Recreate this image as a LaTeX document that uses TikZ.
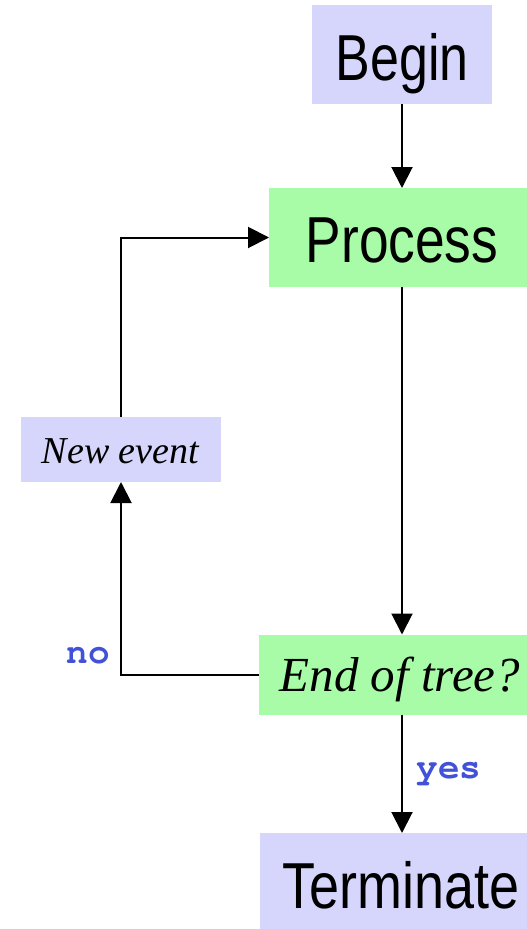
\documentclass[tikz,border=0pt]{standalone}
\usepackage{fontspec}
\setmainfont{Liberation Serif}
\newfontfamily\boxsans{Liberation Sans}
\newfontfamily\labmono{TeX Gyre Cursor}
\usetikzlibrary{arrows.meta}

\definecolor{lavbox}{HTML}{D6D6FC}
\definecolor{greenbox}{HTML}{A8FCA8}
\definecolor{lablue}{HTML}{4252D8}

\tikzset{
  box/.style={draw=none, inner sep=0pt, outer sep=0pt},
  lavfill/.style={box, fill=lavbox},
  greenfill/.style={box, fill=greenbox},
  bigtext/.style={anchor=base, inner sep=0pt, font=\boxsans\fontsize{65}{70}\selectfont},
  ittext/.style={anchor=base, inner sep=0pt, font=\itshape},
  monolabel/.style={anchor=base, inner sep=0pt, text=lablue,
    font=\labmono\bfseries\fontsize{36}{40}\selectfont},
  arr/.style={line width=2pt, -{Triangle[length=21pt,width=21pt]}},
  link/.style={line width=2pt}
}

\begin{document}
\begin{tikzpicture}[x=1pt, y=-1pt]
  \useasboundingbox (0,0) rectangle (527,929);

  % boxes
  \node[lavfill, minimum width=180pt, minimum height=99pt] (begin) at (402,54.5) {};
  \node[greenfill, minimum width=258pt, minimum height=99pt] (process) at (398,237.5) {};
  \node[lavfill, minimum width=200pt, minimum height=65pt] (newev) at (121,449.5) {};
  \node[greenfill, minimum width=268pt, minimum height=80pt] (endq) at (393,674.5) {};
  \node[lavfill, minimum width=267pt, minimum height=96pt] (term) at (393.5,881) {};

  % box texts
  \node[bigtext] (tbegin) at (402,80) {\scalebox{0.8}[1]{Begin}};
  \node[bigtext] (tprocess) at (402,262) {\scalebox{0.82}[1]{Process}};
  \node[ittext, font=\itshape\fontsize{38}{40}\selectfont] (tnewev) at (120.5,463) {New event};
  \node[ittext, font=\itshape\fontsize{49}{52}\selectfont] (tendq) at (400,691) {End of tree?};
  \node[bigtext] (tterm) at (401,908) {\scalebox{0.83}[1]{Terminate}};

  % branch labels
  \node[monolabel] (lno) at (88.5,663) {no};
  \node[monolabel] (lyes) at (449,778) {yes};

  % main flow
  \draw[arr] (begin.south) -- (begin.south |- process.north);
  \draw[arr] (begin.south |- process.south) -- (begin.south |- endq.north);
  \draw[arr] (begin.south |- endq.south) -- (begin.south |- term.north);

  % loop back through a new event
  \draw[arr] (endq.west) -- (newev.south |- endq.west) -- (newev.south);
  \draw[arr] (newev.north) |- (process.west);
\end{tikzpicture}
\end{document}
